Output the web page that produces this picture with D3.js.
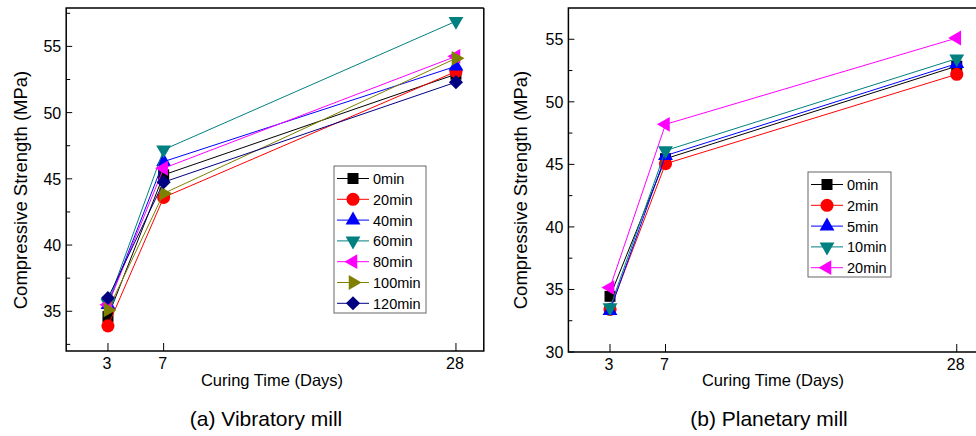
<!DOCTYPE html>
<html>
<head>
<meta charset="utf-8">
<script src="https://cdn.jsdelivr.net/npm/d3@7"></script>
<style>
  body { margin: 0; background: #fff; }
  text { font-family: "Liberation Sans", Arial, sans-serif; fill: #000; }
</style>
</head>
<body>
<div id="container"></div>
<script>
const width = 976;
const height = 436;

// curing days (x values)
const days = [3, 7, 28];
const xTicks = [3, 7, 28];

// (a) vibratory mill
const vibLabels = ["0min", "20min", "40min", "60min", "80min", "100min", "120min"];
const vib0 = [34.6, 45.3, 52.9];
const vib20 = [33.9, 43.6, 53.1];
const vib40 = [35.5, 46.3, 53.5];
const vib60 = [35.6, 47.2, 56.9];
const vib80 = [35.5, 45.8, 54.25];
const vib100 = [35.1, 43.9, 54.1];
const vib120 = [36.0, 44.75, 52.3];
const vibYTicks = [35, 40, 45, 50, 55];

// (b) planetary mill
const plaLabels = ["0min", "2min", "5min", "10min", "20min"];
const pla0 = [34.45, 45.45, 52.85];
const pla2 = [33.4, 45.05, 52.2];
const pla5 = [33.3, 45.7, 53.05];
const pla10 = [33.55, 46.1, 53.45];
const pla20 = [35.15, 48.2, 55.1];
const plaYTicks = [30, 35, 40, 45, 50, 55];

const colors = ["#000000", "#ff0000", "#0000ff", "#008080", "#ff00ff", "#808000", "#000080"];
// marker shape per series index: [symbol, rotation, size]
const shapes = [
  [d3.symbolSquare, 0, 121],
  [d3.symbolCircle, 0, 135],
  [d3.symbolTriangle, 0, 95],
  [d3.symbolTriangle, 180, 95],
  [d3.symbolTriangle, -90, 95],
  [d3.symbolTriangle, 90, 95],
  [d3.symbolSquare, 45, 100]
];

const svg = d3.select("#container").append("svg")
  .attr("width", width)
  .attr("height", height);

function panel(opt) {
  const g = svg.append("g");
  const x = d3.scaleLinear().domain([0, 30]).range([opt.left, opt.right]);
  const y = d3.scaleLinear().domain(opt.yDomain).range([opt.bottom, opt.top]);

  // y axis ticks (inward) + minor
  const minor = d3.range(opt.yDomain[0], opt.yDomain[1], 2.5).map(v => Math.ceil(v / 2.5) * 2.5)
    .filter(v => v > opt.yDomain[0] && v < opt.yDomain[1] && v % 5 !== 0);
  g.selectAll(".ymin").data(minor).join("line")
    .attr("x1", opt.left).attr("x2", opt.left + 4)
    .attr("y1", d => y(d)).attr("y2", d => y(d))
    .attr("stroke", "#000").attr("stroke-width", 1);
  g.selectAll(".ymaj").data(opt.yTicks).join("line")
    .attr("x1", opt.left).attr("x2", opt.left + 6)
    .attr("y1", d => y(d)).attr("y2", d => y(d))
    .attr("stroke", "#000").attr("stroke-width", 1);
  g.selectAll(".ylab").data(opt.yTicks).join("text")
    .attr("x", opt.left - 5).attr("y", d => y(d) + 6)
    .attr("text-anchor", "end").attr("font-size", 16)
    .text(d => d);

  // x ticks
  g.selectAll(".xt").data(xTicks).join("line")
    .attr("x1", d => x(d)).attr("x2", d => x(d))
    .attr("y1", opt.bottom).attr("y2", opt.bottom - 8)
    .attr("stroke", "#000").attr("stroke-width", 1);
  g.selectAll(".xlab").data(xTicks).join("text")
    .attr("x", d => x(d) - 1).attr("y", opt.bottom + 18)
    .attr("text-anchor", "middle").attr("font-size", 16)
    .text(d => d);

  // frame
  g.append("path")
    .attr("d", `M${opt.right},${opt.top}H${opt.left}V${opt.bottom}H${opt.right}` + (opt.closeRight ? `V${opt.top}` : ""))
    .attr("fill", "none").attr("stroke", "#000").attr("stroke-width", 1.5);

  // axis titles
  g.append("text")
    .attr("transform", `translate(${opt.yTitleX},${opt.yTitleY}) rotate(-90)`)
    .attr("text-anchor", "middle").attr("font-size", 18.5)
    .text("Compressive Strength (MPa)");
  g.append("text")
    .attr("x", opt.xTitleX).attr("y", 386)
    .attr("text-anchor", "middle").attr("font-size", 16.5)
    .text("Curing Time (Days)");
  g.append("text")
    .attr("x", opt.captionX).attr("y", 426)
    .attr("text-anchor", "middle").attr("font-size", 21)
    .text(opt.caption);

  const line = d3.line().x((d, i) => x(days[i])).y(d => y(d));

  opt.series.forEach((vals, si) => {
    const sg = g.append("g");
    sg.append("path")
      .attr("d", line(vals))
      .attr("fill", "none").attr("stroke", colors[si]).attr("stroke-width", 1);
    const [sym, rot, size] = shapes[si];
    sg.selectAll("path.m").data(vals).join("path")
      .attr("class", "m")
      .attr("d", d3.symbol(sym, size))
      .attr("transform", (d, i) => `translate(${x(days[i])},${y(d)}) rotate(${rot})`)
      .attr("fill", colors[si]);
  });

  // legend
  const lg = g.append("g");
  lg.append("rect")
    .attr("x", opt.legend.x).attr("y", opt.legend.y)
    .attr("width", opt.legend.w).attr("height", opt.legend.h)
    .attr("fill", "#fff").attr("stroke", "#666").attr("stroke-width", 1);
  opt.labels.forEach((lab, si) => {
    const cy = opt.legend.y + 12.5 + si * 20.8;
    const cx = opt.legend.x + 19;
    lg.append("line")
      .attr("x1", cx - 16).attr("x2", cx + 16)
      .attr("y1", cy).attr("y2", cy)
      .attr("stroke", colors[si]).attr("stroke-width", 1);
    const [sym, rot, size] = shapes[si];
    lg.append("path")
      .attr("d", d3.symbol(sym, size))
      .attr("transform", `translate(${cx},${cy}) rotate(${rot})`)
      .attr("fill", colors[si]);
    lg.append("text")
      .attr("x", cx + 20).attr("y", cy + 5.5)
      .attr("font-size", 14.5)
      .text(lab);
  });
}

panel({
  left: 66.2, right: 483.8, top: 8, bottom: 351,
  yDomain: [32, 57.9], yTicks: vibYTicks, closeRight: true,
  series: [vib0, vib20, vib40, vib60, vib80, vib100, vib120],
  labels: vibLabels,
  legend: { x: 334, y: 166, w: 92, h: 147 },
  yTitleX: 27, yTitleY: 190, xTitleX: 272, captionX: 266,
  caption: "(a) Vibratory mill"
});

panel({
  left: 568.4, right: 984.5, top: 8, bottom: 352,
  yDomain: [30, 57.5], yTicks: plaYTicks, closeRight: true,
  series: [pla0, pla2, pla5, pla10, pla20],
  labels: plaLabels,
  legend: { x: 808, y: 172, w: 83, h: 105 },
  yTitleX: 527, yTitleY: 190, xTitleX: 773, captionX: 769,
  caption: "(b) Planetary mill"
});
</script>
</body>
</html>
